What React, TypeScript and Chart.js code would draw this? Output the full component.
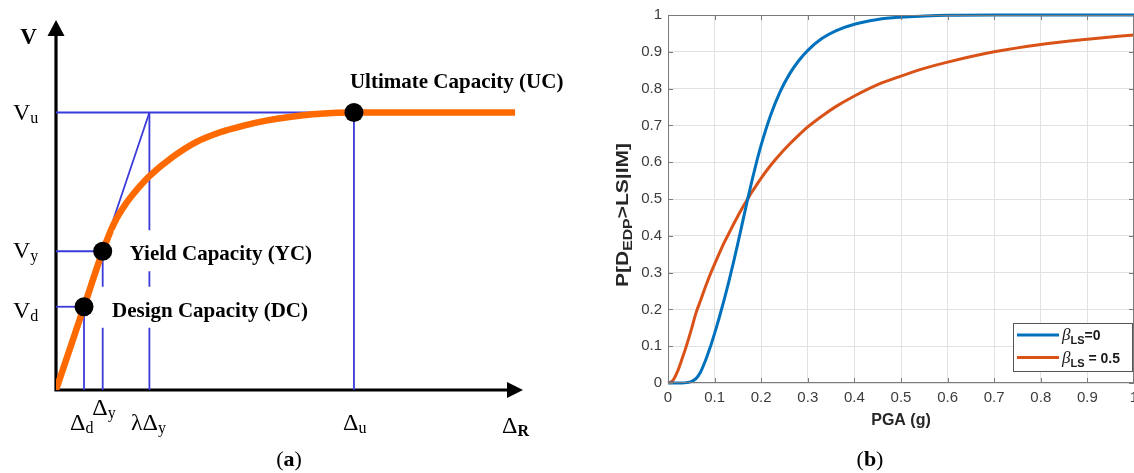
import React, { useEffect, useRef } from "react";
import { Chart, registerables } from "chart.js";

Chart.register(...registerables);

const SERIF = '"Liberation Serif", "Times New Roman", Times, serif';
const SANS = '"Liberation Sans", Arial, Helvetica, sans-serif';

// ---------------- Panel (a): capacity curve (conceptual units) ----------------
const driftA = [0, 0.6, 1.0, 1.25, 1.5, 1.75, 2.0, 2.5, 3.0, 3.5, 4.0, 4.5, 5.0, 5.5, 6.0, 6.38, 9.83];
const shearA = [0, 2.25, 3.75, 4.52, 5.04, 5.44, 5.78, 6.3, 6.7, 6.96, 7.14, 7.28, 7.38, 7.45, 7.49, 7.5, 7.5];
const capacityNames = ["Design Capacity (DC)", "Yield Capacity (YC)", "Ultimate Capacity (UC)"];
const capacityDrift = [0.6, 1.0, 6.38];
const capacityShear = [2.25, 3.75, 7.5];
const capacitySubs = ["d", "y", "u"];
const lambdaDrift = 2.0;
const axisMaxA = 10;

// ---------------- Panel (b): fragility curves ----------------
const pga = [0, 0.01, 0.02, 0.03, 0.04, 0.05, 0.06, 0.07, 0.08, 0.09, 0.1, 0.11, 0.12, 0.13, 0.14, 0.15, 0.16, 0.17, 0.18, 0.19, 0.2, 0.22, 0.24, 0.26, 0.28, 0.3, 0.33, 0.36, 0.4, 0.45, 0.5, 0.55, 0.6, 0.7, 0.8, 0.9, 1.0];
const probBeta0 = [0, 0, 0, 0, 0.001, 0.004, 0.012, 0.03, 0.06, 0.095, 0.135, 0.178, 0.224, 0.273, 0.325, 0.38, 0.437, 0.494, 0.549, 0.6, 0.647, 0.727, 0.79, 0.838, 0.875, 0.904, 0.936, 0.957, 0.975, 0.988, 0.994, 0.997, 0.999, 1, 1, 1, 1];
const probBeta05 = [0, 0.006, 0.03, 0.065, 0.103, 0.145, 0.19, 0.225, 0.26, 0.293, 0.323, 0.352, 0.38, 0.405, 0.43, 0.454, 0.477, 0.498, 0.519, 0.538, 0.557, 0.591, 0.621, 0.648, 0.673, 0.696, 0.725, 0.751, 0.78, 0.811, 0.834, 0.855, 0.872, 0.9, 0.92, 0.934, 0.946];
const legendValues = ["=0", " = 0.5"];
const tickValues = [0, 0.1, 0.2, 0.3, 0.4, 0.5, 0.6, 0.7, 0.8, 0.9, 1];
const tickLabels = ["0", "0.1", "0.2", "0.3", "0.4", "0.5", "0.6", "0.7", "0.8", "0.9", "1"];

const ORANGE_A = "rgb(255,106,0)";
const BLUE_A = "rgb(58,58,218)";
const BLUE_B = "#0072BD";
const ORANGE_B = "#D95319";

type Run = { t: string; font: string; dy?: number };
function runsWidth(ctx: CanvasRenderingContext2D, runs: Run[]) {
  let w = 0;
  for (const r of runs) {
    ctx.font = r.font;
    w += ctx.measureText(r.t).width;
  }
  return w;
}
function drawRuns(ctx: CanvasRenderingContext2D, x: number, y: number, runs: Run[]) {
  let cx = x;
  for (const r of runs) {
    ctx.font = r.font;
    ctx.fillText(r.t, cx, y + (r.dy ?? 0));
    cx += ctx.measureText(r.t).width;
  }
  return cx - x;
}

function drawCaption(ctx: CanvasRenderingContext2D, cx: number, baseline: number, letter: string) {
  const runs: Run[] = [
    { t: "(", font: `22px ${SERIF}` },
    { t: letter, font: `bold 22px ${SERIF}` },
    { t: ")", font: `22px ${SERIF}` },
  ];
  const w = runsWidth(ctx, runs);
  ctx.fillStyle = "#000";
  ctx.textAlign = "left";
  ctx.textBaseline = "alphabetic";
  drawRuns(ctx, cx - w / 2, baseline, runs);
}

const panelAPlugin = {
  id: "panelA",
  beforeDatasetsDraw(chart: any) {
    const { ctx } = chart;
    const xs = chart.scales.x;
    const ys = chart.scales.y;
    const x0 = xs.getPixelForValue(0);
    const y0 = ys.getPixelForValue(0);
    const xEnd = xs.getPixelForValue(axisMaxA);
    const yEnd = ys.getPixelForValue(axisMaxA);
    ctx.save();
    ctx.strokeStyle = "#000";
    ctx.fillStyle = "#000";
    ctx.lineWidth = 3.2;
    ctx.beginPath();
    ctx.moveTo(x0, y0 + 1.6);
    ctx.lineTo(x0, yEnd + 12);
    ctx.moveTo(x0 - 1.6, y0);
    ctx.lineTo(xEnd - 12, y0);
    ctx.stroke();
    ctx.beginPath();
    ctx.moveTo(x0, yEnd);
    ctx.lineTo(x0 - 8.5, yEnd + 16);
    ctx.lineTo(x0 + 8.5, yEnd + 16);
    ctx.closePath();
    ctx.fill();
    ctx.beginPath();
    ctx.moveTo(xEnd, y0);
    ctx.lineTo(xEnd - 16, y0 - 8);
    ctx.lineTo(xEnd - 16, y0 + 8);
    ctx.closePath();
    ctx.fill();
    ctx.restore();
  },
  afterDatasetsDraw(chart: any) {
    const { ctx } = chart;
    const xs = chart.scales.x;
    const ys = chart.scales.y;
    const px = (v: number) => xs.getPixelForValue(v);
    const py = (v: number) => ys.getPixelForValue(v);
    const big = `24px ${SERIF}`;
    const sub = `16px ${SERIF}`;
    ctx.save();
    ctx.fillStyle = "#000";
    ctx.textBaseline = "alphabetic";

    // capacity labels with white backgrounds
    const labelDx = [28, 27, -4];
    const labelDy = [10, 9, -24.5];
    const labelFont = `bold 21px ${SERIF}`;
    capacityNames.forEach((name, i) => {
      const lx = px(capacityDrift[i]) + labelDx[i];
      const ly = py(capacityShear[i]) + labelDy[i];
      ctx.font = labelFont;
      const w = ctx.measureText(name).width;
      ctx.fillStyle = "#fff";
      ctx.fillRect(lx - 16, ly - 30, w + 26, 41);
      ctx.fillStyle = "#000";
      ctx.textAlign = "left";
      ctx.fillText(name, lx, ly);
    });

    // V axis title
    ctx.font = `bold 23px ${SERIF}`;
    ctx.textAlign = "center";
    ctx.fillText("V", px(0) - 27.5, py(axisMaxA) + 24);
    ctx.textAlign = "left";

    // shear level labels
    const shearDy = [11, 7, 7.5];
    capacityShear.forEach((v, i) => {
      drawRuns(ctx, px(0) - 43, py(v) + shearDy[i], [
        { t: "V", font: big },
        { t: capacitySubs[i], font: sub, dy: 3 },
      ]);
    });

    // drift labels
    const driftDx = [-14, -10.5, -11];
    const driftDy = [40, 25, 40];
    capacityDrift.forEach((d, i) => {
      drawRuns(ctx, px(d) + driftDx[i], py(0) + driftDy[i], [
        { t: "Δ", font: big },
        { t: capacitySubs[i], font: sub, dy: 3 },
      ]);
    });
    drawRuns(ctx, px(lambdaDrift) - 18.5, py(0) + 40, [
      { t: "λ", font: big },
      { t: "Δ", font: big },
      { t: "y", font: sub, dy: 3 },
    ]);
    drawRuns(ctx, px(axisMaxA) - 21, py(0) + 43, [
      { t: "Δ", font: big },
      { t: "R", font: `bold 16px ${SERIF}`, dy: 3 },
    ]);

    drawCaption(ctx, 289, 466, "a");
    ctx.restore();
  },
};

const panelBPlugin = {
  id: "panelB",
  afterDatasetsDraw(chart: any) {
    const { ctx, chartArea } = chart;
    const { left, right, top, bottom } = chartArea;
    const xs = chart.scales.x;
    const ys = chart.scales.y;
    ctx.save();
    ctx.strokeStyle = "#7a7a7a";
    ctx.lineWidth = 1;
    ctx.strokeRect(left + 0.5, top + 0.5, right - left - 1, bottom - top - 1);
    ctx.beginPath();
    tickValues.forEach((v) => {
      const x = Math.round(xs.getPixelForValue(v)) + 0.5;
      ctx.moveTo(x, bottom);
      ctx.lineTo(x, bottom - 5);
      ctx.moveTo(x, top);
      ctx.lineTo(x, top + 5);
      const y = Math.round(ys.getPixelForValue(v)) + 0.5;
      ctx.moveTo(left, y);
      ctx.lineTo(left + 5, y);
      ctx.moveTo(right, y);
      ctx.lineTo(right - 5, y);
    });
    ctx.stroke();
    ctx.restore();
  },
  afterDraw(chart: any) {
    const { ctx, chartArea } = chart;
    const { left, right, top, bottom } = chartArea;
    ctx.save();

    // legend
    const bw = 119;
    const bh = 48;
    const bx = right - 2 - bw;
    const by = bottom - 12 - bh;
    ctx.fillStyle = "#fff";
    ctx.fillRect(bx, by, bw, bh);
    ctx.strokeStyle = "#555";
    ctx.lineWidth = 1;
    ctx.strokeRect(Math.round(bx) + 0.5, Math.round(by) + 0.5, bw, bh);
    chart.data.datasets.forEach((ds: any, i: number) => {
      const cy = by + 12 + i * 22.5;
      ctx.strokeStyle = ds.borderColor;
      ctx.lineWidth = 3;
      ctx.beginPath();
      ctx.moveTo(bx + 4, cy);
      ctx.lineTo(bx + 46, cy);
      ctx.stroke();
      ctx.fillStyle = "#1a1a1a";
      ctx.textAlign = "left";
      ctx.textBaseline = "alphabetic";
      drawRuns(ctx, bx + 49, cy + 5, [
        { t: "β", font: `italic 17px ${SERIF}` },
        { t: "LS", font: `bold 11px ${SANS}`, dy: 4 },
        { t: legendValues[i], font: `bold 14px ${SANS}` },
      ]);
    });

    // y-axis title with subscript
    const runs: Run[] = [
      { t: "P[D", font: `bold 16px ${SANS}` },
      { t: "EDP", font: `bold 12px ${SANS}`, dy: 4 },
      { t: ">LS|IM]", font: `bold 16px ${SANS}` },
    ];
    const w = runsWidth(ctx, runs);
    const target = 144;
    const stretch = target / w;
    const midY = (top + bottom) / 2 + 16;
    ctx.translate(left - 45.5, midY + target / 2);
    ctx.rotate(-Math.PI / 2);
    ctx.scale(stretch, 1);
    ctx.fillStyle = "#262626";
    drawRuns(ctx, 0, 5.8, runs);
    ctx.setTransform(1, 0, 0, 1, 0, 0);

    drawCaption(ctx, 290, 466, "b");
    ctx.restore();
  },
};

function PanelA() {
  const ref = useRef<HTMLCanvasElement | null>(null);
  useEffect(() => {
    if (!ref.current) return;
    const refSegments: { x: number; y: number }[][] = [];
    capacityDrift.forEach((d, i) => {
      refSegments.push([{ x: 0, y: capacityShear[i] }, { x: d, y: capacityShear[i] }]);
      refSegments.push([{ x: d, y: 0 }, { x: d, y: capacityShear[i] }]);
    });
    refSegments.push([{ x: lambdaDrift, y: 0 }, { x: lambdaDrift, y: capacityShear[2] }]);
    refSegments.push([{ x: 0, y: 0 }, { x: lambdaDrift, y: capacityShear[2] }]);

    const chart = new Chart(ref.current, {
      type: "scatter",
      data: {
        datasets: [
          {
            label: "capacity points",
            data: capacityDrift.map((x, i) => ({ x, y: capacityShear[i] })),
            pointRadius: 9.5,
            pointBackgroundColor: "#000",
            pointBorderColor: "#000",
            pointBorderWidth: 0,
            showLine: false,
          } as any,
          {
            label: "capacity curve",
            data: driftA.map((x, i) => ({ x, y: shearA[i] })),
            showLine: true,
            borderColor: ORANGE_A,
            borderWidth: 6.5,
            pointRadius: 0,
            cubicInterpolationMode: "monotone",
            borderJoinStyle: "round",
          } as any,
          ...refSegments.map(
            (seg, k) =>
              ({
                label: "ref" + k,
                data: seg,
                showLine: true,
                borderColor: BLUE_A,
                borderWidth: 1.8,
                pointRadius: 0,
              } as any)
          ),
        ],
      },
      options: {
        animation: false,
        responsive: false,
        layout: { padding: { left: 56, right: 57, top: 20, bottom: 83 } },
        scales: {
          x: { type: "linear", min: 0, max: axisMaxA, display: false },
          y: { type: "linear", min: 0, max: axisMaxA, display: false },
        },
        plugins: { legend: { display: false }, tooltip: { enabled: false } },
        events: [],
      },
      plugins: [panelAPlugin],
    });
    return () => chart.destroy();
  }, []);
  return <canvas ref={ref} width={580} height={473} style={{ position: "absolute", left: 0, top: 0 }} />;
}

function PanelB() {
  const ref = useRef<HTMLCanvasElement | null>(null);
  useEffect(() => {
    if (!ref.current) return;
    const tickFont = { family: SANS, size: 15 };
    const chart = new Chart(ref.current, {
      type: "scatter",
      data: {
        datasets: [
          {
            label: "beta0",
            data: pga.map((x, i) => ({ x, y: probBeta0[i] })),
            showLine: true,
            borderColor: BLUE_B,
            borderWidth: 3,
            pointRadius: 0,
            cubicInterpolationMode: "monotone",
            clip: 4,
          } as any,
          {
            label: "beta05",
            data: pga.map((x, i) => ({ x, y: probBeta05[i] })),
            showLine: true,
            borderColor: ORANGE_B,
            borderWidth: 3,
            pointRadius: 0,
            cubicInterpolationMode: "monotone",
            clip: 4,
          } as any,
        ],
      },
      options: {
        animation: false,
        responsive: false,
        layout: { padding: { left: 0, right: 0, top: 15, bottom: 40 } },
        scales: {
          x: {
            type: "linear",
            min: 0,
            max: 1,
            afterBuildTicks: (s: any) => {
              s.ticks = tickValues.map((v) => ({ value: v }));
            },
            afterFit: (s: any) => {
              s.height = 50;
              s.paddingLeft = 0;
              s.paddingRight = 0;
            },
            ticks: {
              callback: (_v: any, i: number) => tickLabels[i],
              font: tickFont,
              color: "#3c3c3c",
              padding: 6,
              maxRotation: 0,
              autoSkip: false,
            },
            grid: { color: "#e1e1e1", drawTicks: false, lineWidth: 1 },
            border: { display: false },
            title: {
              display: true,
              text: "PGA (g)",
              font: { family: SANS, size: 16, weight: "bold" },
              color: "#262626",
              padding: { top: 0, bottom: 3 },
            },
          } as any,
          y: {
            type: "linear",
            min: 0,
            max: 1,
            afterBuildTicks: (s: any) => {
              s.ticks = tickValues.map((v) => ({ value: v }));
            },
            afterFit: (s: any) => {
              s.width = 88;
              s.paddingTop = 0;
              s.paddingBottom = 0;
            },
            ticks: {
              callback: (_v: any, i: number) => tickLabels[i],
              font: tickFont,
              color: "#3c3c3c",
              padding: 6,
              autoSkip: false,
            },
            grid: { color: "#e1e1e1", drawTicks: false, lineWidth: 1 },
            border: { display: false },
          } as any,
        },
        plugins: { legend: { display: false }, tooltip: { enabled: false } },
        events: [],
      },
      plugins: [panelBPlugin],
    });
    return () => chart.destroy();
  }, []);
  return <canvas ref={ref} width={554} height={473} style={{ position: "absolute", left: 580, top: 0 }} />;
}

export default function App() {
  return (
    <div style={{ position: "absolute", left: 0, top: 0, width: 1134, height: 473, background: "#fff", overflow: "hidden" }}>
      <PanelA />
      <PanelB />
    </div>
  );
}
